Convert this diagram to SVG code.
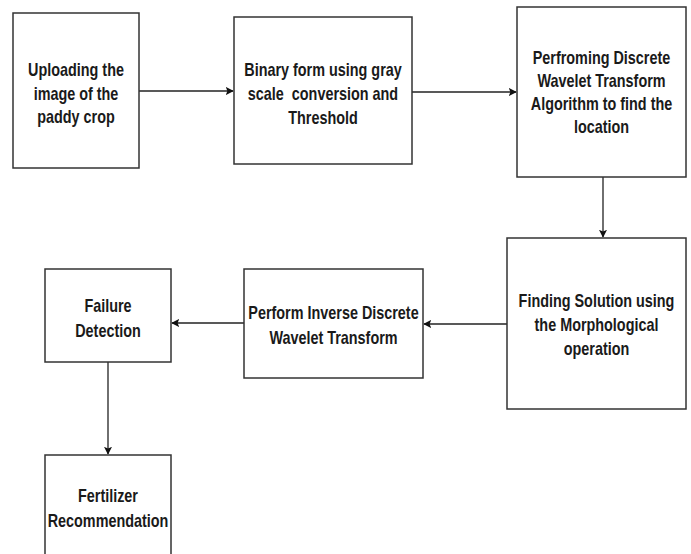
<svg xmlns="http://www.w3.org/2000/svg" width="691" height="554" viewBox="0 0 691 554">
<style>
.box{fill:#fff;stroke:#333;stroke-width:1.5}
.lbl{font-family:"Liberation Sans",Arial,sans-serif;font-weight:bold;font-size:18px;fill:#1a1a1a;text-anchor:middle;white-space:pre}
.edge{fill:none;stroke:#222;stroke-width:1.3}
</style>
<defs>
<marker id="ah" viewBox="0 0 10 10" refX="9" refY="5" markerWidth="8" markerHeight="8" markerUnits="userSpaceOnUse" orient="auto">
<path d="M0,0 L10,5 L0,10 L2,5 z" fill="#111"/>
</marker>
</defs>
<rect width="691" height="554" fill="#fff"/>
<g id="connectors">
<line class="edge" x1="139" y1="91" x2="233" y2="91" stroke="#555" stroke-width="2" marker-end="url(#ah)"/>
<line class="edge" x1="412" y1="92" x2="516" y2="92" marker-end="url(#ah)"/>
<line class="edge" x1="603" y1="177" x2="603" y2="237" marker-end="url(#ah)"/>
<line class="edge" x1="507" y1="324" x2="424" y2="324" marker-end="url(#ah)"/>
<line class="edge" x1="244" y1="323" x2="172" y2="323" marker-end="url(#ah)"/>
<line class="edge" x1="108" y1="362" x2="108" y2="454" marker-end="url(#ah)"/>
</g>
<g id="n1">
<rect class="box" x="13" y="13" width="126" height="155" stroke="#555" stroke-width="2"/>
<text class="lbl" transform="matrix(0.8 0 0 1 76 0)"><tspan x="0" y="76">Uploading the</tspan><tspan x="0" y="100">image of the</tspan><tspan x="0" y="123">paddy crop</tspan></text>
</g>
<g id="n2">
<rect class="box" x="234" y="17" width="178" height="147"/>
<text class="lbl" transform="matrix(0.8 0 0 1 323 0)"><tspan x="0" y="76">Binary form using gray</tspan><tspan x="0" y="100">scale  conversion and</tspan><tspan x="0" y="124">Threshold</tspan></text>
</g>
<g id="n3">
<rect class="box" x="517" y="7" width="169" height="170"/>
<text class="lbl" transform="matrix(0.8 0 0 1 601.5 0)"><tspan x="0" y="64">Perfroming Discrete</tspan><tspan x="0" y="87">Wavelet Transform</tspan><tspan x="0" y="110">Algorithm to find the</tspan><tspan x="0" y="133">location</tspan></text>
</g>
<g id="n4">
<rect class="box" x="507" y="238" width="179" height="171"/>
<text class="lbl" transform="matrix(0.8 0 0 1 596.5 0)"><tspan x="0" y="307">Finding Solution using</tspan><tspan x="0" y="331">the Morphological</tspan><tspan x="0" y="355">operation</tspan></text>
</g>
<g id="n5">
<rect class="box" x="244" y="269" width="179" height="109"/>
<text class="lbl" transform="matrix(0.8 0 0 1 333.5 0)"><tspan x="0" y="319">Perform Inverse Discrete</tspan><tspan x="0" y="344">Wavelet Transform</tspan></text>
</g>
<g id="n6">
<rect class="box" x="45" y="269" width="126" height="93"/>
<text class="lbl" transform="matrix(0.8 0 0 1 108 0)"><tspan x="0" y="312">Failure</tspan><tspan x="0" y="337">Detection</tspan></text>
</g>
<g id="n7">
<rect class="box" x="45" y="455" width="126" height="104"/>
<text class="lbl" transform="matrix(0.8 0 0 1 108 0)"><tspan x="0" y="502">Fertilizer</tspan><tspan x="0" y="527">Recommendation</tspan></text>
</g>
</svg>
